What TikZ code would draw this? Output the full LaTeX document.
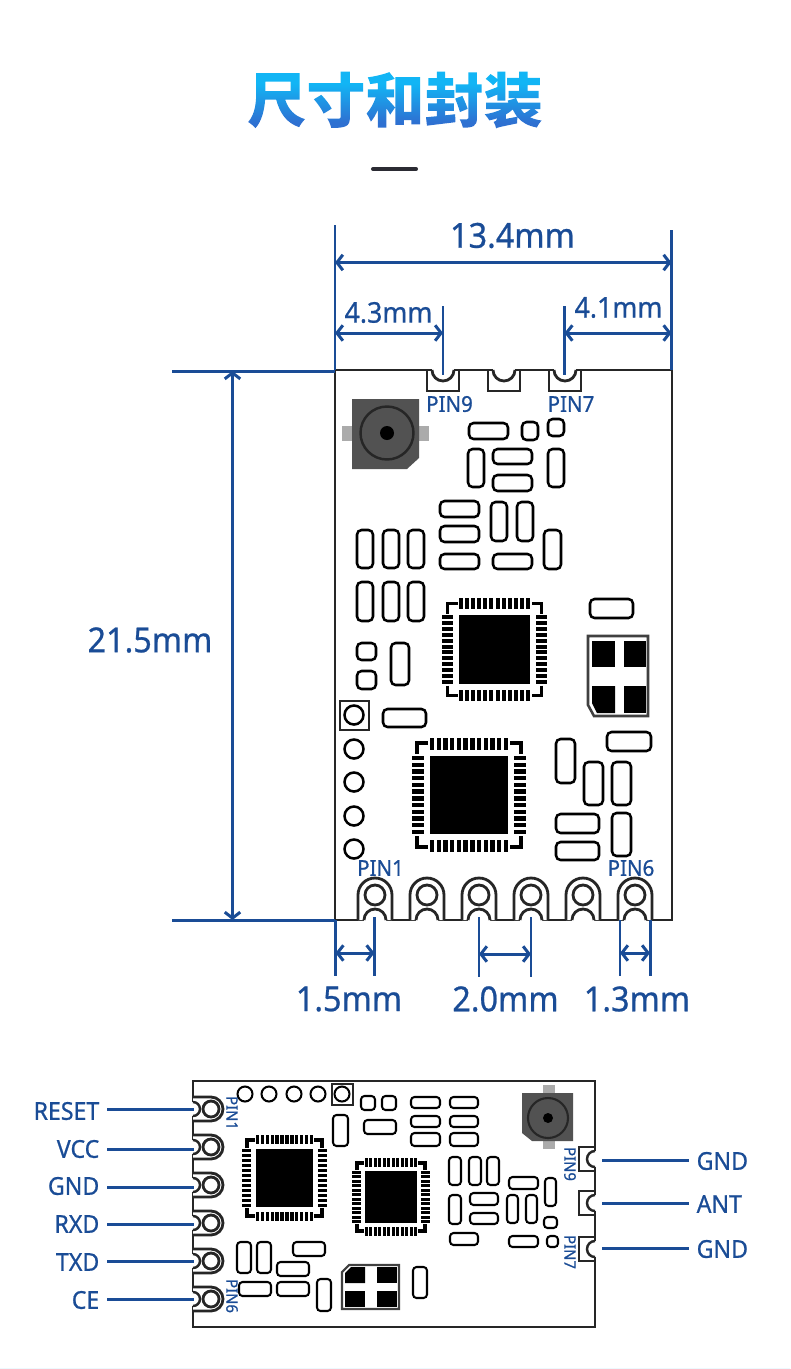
\documentclass[tikz,border=0pt]{standalone}
\usepackage{fontspec}
\setmainfont[FakeStretch=0.94,FakeBold=0.7]{Noto Sans}
\newfontfamily\titlefont{Noto Sans CJK SC}
\usetikzlibrary{arrows.meta}
\definecolor{dimblue}{HTML}{1A4C96}
\definecolor{pcbdark}{HTML}{262626}
\definecolor{titlerule}{HTML}{2B2B33}
\pgfdeclareverticalshading{titlefade}{90pt}{rgb(0pt)=(0.18,0.44,0.82);rgb(3pt)=(0.18,0.44,0.82);rgb(14pt)=(0.07,0.71,0.96);rgb(19pt)=(0.07,0.71,0.96)}
\tikzset{
	pcb/.style={line width=0.8pt, draw=pcbdark, fill=white},
	smd/.style={line width=0.72pt, draw=black, rounded corners=1.3pt},
	smdsmall/.style={line width=0.58pt, draw=black, rounded corners=1pt},
	dimline/.style={line width=0.85pt, draw=dimblue, {Straight Barb[length=1.7pt,width=4.4pt]}-{Straight Barb[length=1.7pt,width=4.4pt]}},
	dimtick/.style={line width=0.85pt, draw=dimblue},
	callout/.style={line width=0.85pt, draw=dimblue, shorten <=2pt},
	dimtext/.style={font=\fontsize{9.8}{11}\selectfont, text=dimblue, inner sep=0},
	dimsmall/.style={font=\fontsize{8.1}{10}\selectfont, text=dimblue, inner sep=0},
	pintext/.style={font=\fontsize{6.2}{7}\selectfont, text=dimblue, inner sep=0},
	pinrot/.style={font=\fontsize{4.5}{5}\selectfont, text=dimblue, inner sep=0, rotate=-90},
	sidetext/.style={font=\fontsize{7}{8}\selectfont, text=dimblue, inner sep=0}
}
\def\part(#1,#2,#3,#4){\draw[smd] (#1,#2) rectangle (#3,#4);}
\def\partb(#1,#2,#3,#4){\draw[smdsmall] (#1,#2) rectangle (#3,#4);}
\def\padbottom(#1){
	\fill[white] (#1-11,916) rectangle (#1+11,923);
	\draw[pcb] (#1-17,920) -- (#1-17,895) arc (180:360:17) -- (#1+17,920);
	\draw[pcb] (#1,895) circle (10);
	\fill[white] (#1-11,920) arc (180:360:11) -- (#1+11,923) -- (#1-11,923) -- cycle;
	\draw[line width=0.8pt, draw=pcbdark] (#1-11,920) arc (180:360:11);
}
\def\padtop(#1){
	\fill[white] (#1-11,367) rectangle (#1+11,372);
	\draw[line width=0.8pt, draw=pcbdark] (#1-16,370) -- (#1-16,391) -- (#1+16,391) -- (#1+16,370);
	\draw[line width=0.8pt, draw=pcbdark] (#1-11,370) arc (180:0:11);
}
\def\padleft(#1){
	\fill[white] (190,#1-7) rectangle (196,#1+7);
	\draw[pcb] (193,#1-12) -- (211,#1-12) arc (-90:90:12) -- (193,#1+12);
	\draw[pcb] (211,#1) circle (8);
	\draw[line width=0.7pt, draw=pcbdark, fill=white] (193,#1-7) arc (-90:90:7);
}
\def\padright(#1){
	\fill[white] (592,#1-8) rectangle (598,#1+8);
	\draw[line width=0.8pt, draw=pcbdark] (595,#1-12) -- (579,#1-12) -- (579,#1+12) -- (595,#1+12);
	\draw[line width=0.7pt, draw=pcbdark] (595,#1-8) arc (-90:-270:8);
}
\def\chip(#1,#2,#3,#4)(#5,#6,#7,#8,#9){
	\fill[black] (#1,#2) rectangle (#3,#4);
	\foreach \i in {0,...,11}{
		\pgfmathsetmacro{\px}{#1+\i*(#3-#1-#7)/11}
		\pgfmathsetmacro{\py}{#2+\i*(#4-#2-#7)/11}
		\fill[black] (\px,#2-#5-#6) rectangle (\px+#7,#2-#5);
		\fill[black] (\px,#4+#5) rectangle (\px+#7,#4+#5+#6);
		\fill[black] (#1-#5-#6,\py) rectangle (#1-#5,\py+#7);
		\fill[black] (#3+#5,\py) rectangle (#3+#5+#6,\py+#7);
	}
	\draw[line width=0.9pt] (#1-#8,#2-#8+#9) -- (#1-#8,#2-#8) -- (#1-#8+#9,#2-#8);
	\draw[line width=0.9pt] (#3+#8,#2-#8+#9) -- (#3+#8,#2-#8) -- (#3+#8-#9,#2-#8);
	\draw[line width=0.9pt] (#1-#8,#4+#8-#9) -- (#1-#8,#4+#8) -- (#1-#8+#9,#4+#8);
	\draw[line width=0.9pt] (#3+#8,#4+#8-#9) -- (#3+#8,#4+#8) -- (#3+#8-#9,#4+#8);
}

\begin{document}
\begin{tikzpicture}[x=0.01cm, y=-0.01cm]
	\useasboundingbox (0,0) rectangle (790,1369);
	\fill[cyan!7] (0,1368) rectangle (790,1369);
	
	%%%%% title
	\node[inner sep=0] (title) at (395,100) {\fontsize{16.8}{18}\titlefont\bfseries\special{pdf:code 7 Tr}尺寸和封装\special{pdf:code 0 Tr}\llap{\smash{\raisebox{-3pt}{\pgfuseshading{titlefade}}}}};
	\draw[line width=1.15pt, line cap=round, draw=titlerule] (373,169) -- (416,169);
	
	%%%%% top view
	\draw[pcb] (335,370) rectangle (672,920);
	\padtop(443)
	\padtop(504)
	\padtop(565)
	\padbottom(375)
	\padbottom(427)
	\padbottom(479)
	\padbottom(531)
	\padbottom(583)
	\padbottom(635)
	
	% antenna socket
	\fill[black!33] (342,426) rectangle (429,441);
	\fill[black!68] (352,399) -- (419,399) -- (419,458) -- (407,469) -- (352,469) -- cycle;
	\draw[line width=0.7pt, draw=black!85] (387,433) circle (26.5);
	\fill[black] (387,433) circle (7);
	
	\part(469,423,508,439)
	\part(522,422,538,440)
	\part(548,419,564,436)
	\part(468,449,484,487)
	\part(493,449,532,464)
	\part(493,475,532,491)
	\part(548,449,564,487)
	\part(440,501,479,517)
	\part(440,526,479,542)
	\part(440,554,479,569)
	\part(491,502,507,541)
	\part(517,502,533,541)
	\part(493,554,532,569)
	\part(544,530,561,569)
	\part(357,530,373,568)
	\part(383,530,399,568)
	\part(408,530,424,568)
	\part(357,582,373,621)
	\part(383,582,399,621)
	\part(408,582,424,621)
	\part(590,599,633,618)
	\part(357,643,376,660)
	\part(357,671,376,689)
	\part(391,643,409,685)
	\part(383,709,426,727)
	\part(556,739,575,783)
	\part(607,732,651,751)
	\part(584,762,603,805)
	\part(612,762,631,805)
	\part(556,814,599,833)
	\part(556,842,599,860)
	\part(612,813,631,856)
	
	\chip(459,615,530,684)(6,11,4,11.5,10)
	\chip(430,756,508,834)(6,12,4.4,13,11)
	
	% test holes
	\draw[line width=0.8pt, draw=pcbdark] (340,701) rectangle (369,730);
	\draw[line width=0.72pt] (354,715) circle (9.5);
	\draw[line width=0.72pt] (354,749) circle (9.5);
	\draw[line width=0.72pt] (354,782) circle (9.5);
	\draw[line width=0.72pt] (354,816) circle (9.5);
	\draw[line width=0.72pt] (354,849) circle (9.5);
	
	% crystal
	\draw[line width=0.72pt, draw=black!75] (588,636) -- (648,636) -- (648,716) -- (594,716) -- (588,705) -- cycle;
	\fill[black] (592,641) rectangle (615,667);
	\fill[black] (624,641) rectangle (646,667);
	\fill[black] (592,686) -- (615,686) -- (615,713) -- (597,713) -- (592,703) -- cycle;
	\fill[black] (624,686) rectangle (646,713);
	
	\node[pintext] (pinnine) at (449.5,404) {PIN9};
	\node[pintext] (pinseven) at (571,404) {PIN7};
	\node[pintext] (pinone) at (380.5,868) {PIN1};
	\node[pintext] (pinsix) at (631,868) {PIN6};
	
	%%%%% dimensions
	\draw[dimtick] (335,225) -- (335,370);
	\draw[dimtick] (671.5,230) -- (671.5,370);
	\draw[dimline] (335,262.5) -- (671.5,262.5);
	\node[dimtext] (widthall) at (512.5,235.5) {13.4mm};
	\draw[dimtick] (443,306) -- (443,375);
	\draw[dimtick] (564.5,306) -- (564.5,375);
	\draw[dimline] (335,333) -- (443,333);
	\draw[dimline] (564.5,333) -- (671.5,333);
	\node[dimsmall] (widthleft) at (388.5,312.5) {4.3mm};
	\node[dimsmall] (widthright) at (618.5,307.5) {4.1mm};
	\draw[dimtick] (172,371) -- (335,371);
	\draw[dimtick] (172,920) -- (335,920);
	\draw[dimline] (232.5,371) -- (232.5,920);
	\node[dimtext] (height) at (150,640) {21.5mm};
	\draw[dimtick] (335.5,920) -- (335.5,976);
	\draw[dimtick] (374.5,917) -- (374.5,976);
	\draw[dimline] (335.5,953) -- (374.5,953);
	\draw[dimtick] (479,917) -- (479,977);
	\draw[dimtick] (531,917) -- (531,977);
	\draw[dimline] (479,954) -- (531,954);
	\draw[dimtick] (620,920) -- (620,976);
	\draw[dimtick] (650,920) -- (650,976);
	\draw[dimline] (620,953) -- (650,953);
	\node[dimtext] (edgegap) at (349,999) {1.5mm};
	\node[dimtext] (pitch) at (505.5,999) {2.0mm};
	\node[dimtext] (padwidth) at (637,999) {1.3mm};
	
	%%%%% bottom view
	\draw[pcb] (193,1081) rectangle (595,1327);
	\padleft(1109)
	\padleft(1147)
	\padleft(1185)
	\padleft(1223)
	\padleft(1261)
	\padleft(1299)
	\padright(1159)
	\padright(1203)
	\padright(1249)
	
	% antenna socket
	\fill[black!33] (543,1085) rectangle (555,1149);
	\fill[black!68] (522,1093) -- (573,1093) -- (573,1141) -- (532,1141) -- (522,1133) -- cycle;
	\draw[line width=0.6pt, draw=black!85] (548,1118) circle (20);
	\fill[black] (548,1118) circle (5);
	
	\partb(361,1096,375,1110)
	\partb(382,1096,396,1110)
	\partb(364,1120,396,1134)
	\partb(333,1115,348,1146)
	\partb(237,1242,251,1273)
	\partb(257,1242,271,1273)
	\partb(293,1242,325,1256)
	\partb(277,1262,309,1276)
	\partb(239,1282,271,1296)
	\partb(277,1282,309,1296)
	\partb(317,1279,331,1311)
	\partb(411,1097,440,1108)
	\partb(450,1097,478,1108)
	\partb(411,1116,440,1127)
	\partb(450,1116,478,1127)
	\partb(411,1133,440,1146)
	\partb(450,1133,478,1146)
	\partb(449,1157,461,1185)
	\partb(469,1157,481,1185)
	\partb(487,1157,499,1185)
	\partb(449,1195,461,1224)
	\partb(470,1193,498,1205)
	\partb(470,1213,498,1224)
	\partb(450,1233,478,1245)
	\partb(509,1177,538,1189)
	\partb(507,1195,518,1223)
	\partb(526,1195,537,1223)
	\partb(545,1178,556,1206)
	\partb(544,1217,557,1228)
	\partb(547,1236,558,1247)
	\partb(509,1236,538,1247)
	\partb(413,1267,427,1298)
	
	\chip(256,1149,313,1207)(5,9,3.4,9,8)
	\chip(365,1171,417,1223)(4,9,3,8,7)
	
	% test holes
	\draw[line width=0.7pt, draw=pcbdark] (332,1084) rectangle (353,1105);
	\draw[line width=0.58pt] (245,1094) circle (7.5);
	\draw[line width=0.58pt] (269,1094) circle (7.5);
	\draw[line width=0.58pt] (294,1094) circle (7.5);
	\draw[line width=0.58pt] (318,1094) circle (7.5);
	\draw[line width=0.58pt] (342,1094) circle (7.5);
	
	% crystal
	\draw[line width=0.6pt, draw=black!75] (349,1265) -- (399,1265) -- (399,1309) -- (342,1309) -- (342,1272) -- cycle;
	\fill[black] (351,1267) -- (365,1267) -- (365,1283) -- (345,1283) -- (345,1273) -- cycle;
	\fill[black] (377,1267) rectangle (397,1283);
	\fill[black] (345,1291) rectangle (365,1307);
	\fill[black] (377,1291) rectangle (397,1307);
	
	\node[pinrot] (pinonerot) at (232,1113) {PIN1};
	\node[pinrot] (pinsixrot) at (232,1296) {PIN6};
	\node[pinrot] (pinninerot) at (570,1164) {PIN9};
	\node[pinrot] (pinsevenrot) at (570,1252) {PIN7};
	
	%%%%% pin names
	\coordinate (padreset) at (194,1109);
	\coordinate (padvcc) at (194,1149);
	\coordinate (padgndl) at (194,1187);
	\coordinate (padrxd) at (194,1224);
	\coordinate (padtxd) at (194,1261);
	\coordinate (padce) at (194,1299);
	\coordinate (padgnda) at (602,1160);
	\coordinate (padant) at (602,1203);
	\coordinate (padgndb) at (602,1248);
	\node[sidetext, anchor=east] (reset) at (100,1111) {RESET};
	\node[sidetext, anchor=east] (vcc) at (100,1149) {VCC};
	\node[sidetext, anchor=east] (gndl) at (100,1186) {GND};
	\node[sidetext, anchor=east] (rxd) at (100,1224) {RXD};
	\node[sidetext, anchor=east] (txd) at (100,1262) {TXD};
	\node[sidetext, anchor=east] (ce) at (100,1300) {CE};
	\node[sidetext, anchor=west] (gnda) at (696,1161) {GND};
	\node[sidetext, anchor=west] (ant) at (696,1204) {ANT};
	\node[sidetext, anchor=west] (gndb) at (696,1249) {GND};
	\draw[callout] (reset.east |- padreset) -- (padreset);
	\draw[callout] (vcc.east |- padvcc) -- (padvcc);
	\draw[callout] (gndl.east |- padgndl) -- (padgndl);
	\draw[callout] (rxd.east |- padrxd) -- (padrxd);
	\draw[callout] (txd.east |- padtxd) -- (padtxd);
	\draw[callout] (ce.east |- padce) -- (padce);
	\draw[callout] (gnda.west |- padgnda) -- (padgnda);
	\draw[callout] (ant.west |- padant) -- (padant);
	\draw[callout] (gndb.west |- padgndb) -- (padgndb);
\end{tikzpicture}
\end{document}
